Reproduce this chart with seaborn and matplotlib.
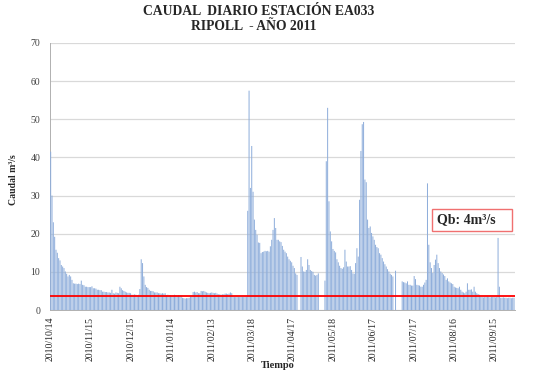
import matplotlib
matplotlib.use("Agg")
import matplotlib.pyplot as plt
from matplotlib.patches import Rectangle
import seaborn as sns
import pandas as pd
import numpy as np

sns.set_style("white")
plt.rcParams["font.family"] = ["Liberation Serif", "DejaVu Serif"]
plt.rcParams["axes.unicode_minus"] = False

nan = np.nan

# caudal diario (m3/s), por tramos
oct_nov = [41.5, 30.0, 23.0, 19.2, 15.8, 15.0, 13.6, 13.0, 11.8, 11.4,
           11.0, 10.1, 9.5, 8.8, 9.2, 8.8, 7.9, 7.0, 6.9, 6.9,
           6.8, 6.9, 6.8, 7.7, 6.6, 6.5, 6.1, 6.1, 6.0, 6.0,
           6.0, 6.2, 5.7, 5.7, 5.6, 5.3, 5.3, 5.2, 5.2, 4.8,
           4.8, 4.7, 4.7, 4.6, 4.6, 4.5, 5.3, 4.4, 4.3, 4.6,
           4.5, 4.4, 6.1, 5.7, 5.2, 5.0, 4.8, 4.6, 4.5]
dic_ene = [4.5, 4.4, 4.0, 4.0, 4.1, 4.0, 3.9, 4.0, 5.5, 13.3,
           12.3, 8.8, 6.6, 6.0, 5.8, 5.3, 5.0, 5.0, 4.9, 4.6,
           4.6, 4.6, 4.4, 4.4, 4.3, 4.4, 4.3, 4.4, 3.9, 4.0,
           3.9, 3.9, 3.8, 3.9, 4.0, 3.9, 3.8, 3.9, 3.9, 3.8,
           3.2, 3.1, 3.0, 3.1, 3.1, 3.2, 3.5, 3.5, 4.7, 4.8,
           4.6, 4.7, 4.4, 4.4, 5.0, 4.9, 5.0, 4.8, 4.6]
feb_mar = [4.5, 4.4, 4.5, 4.6, 4.5, 4.4, 4.5, 4.3, 4.1, 4.1,
           4.0, 4.1, 4.1, 4.3, 4.3, 4.2, 4.3, 4.6, 4.4, 3.5,
           3.4, 3.4, 3.5, 3.4, 3.4, 3.5, 3.4, 3.4, 3.5, 3.4,
           26.0]
mar_may = [57.5, 32.0, 43.0, 31.0, 23.7, 21.0, 19.7, 17.7, 17.6, 14.9,
           15.2, 15.3, 15.5, 15.4, 15.5, 15.3, 16.7, 18.4, 21.0, 24.1,
           21.5, 18.4, 18.4, 18.0, 17.8, 16.8, 15.8, 15.3, 14.9, 14.0,
           13.3, 12.9, 12.5, 11.6, 11.0, 9.6, 9.2, nan, nan, 13.9,
           11.4, 10.1, 10.0, 10.5, 13.3, 11.8, 10.5, 10.2, 10.0, 9.2,
           9.0, 9.2, 9.6, nan, nan, nan, nan, 7.7]
may_jul = [39.0, 53.0, 28.5, 20.6, 18.0, 16.0, 15.5, 15.1, 13.3, 12.5,
           11.6, 11.0, 10.8, 11.2, 15.8, 12.7, 11.4, 11.4, 11.5, 10.5,
           9.6, 9.5, 12.3, 16.2, 14.0, 28.9, 41.7, 48.7, 49.3, 34.2,
           33.5, 23.7, 21.5, 21.9, 20.2, 19.3, 18.4, 17.1, 16.5, 16.2,
           14.9, 14.5, 13.6, 12.7, 12.0, 11.4, 10.7, 10.1, 9.5, 9.2,
           8.8, nan, 10.3, nan, nan, nan, nan]
jul_sep = [7.5, 7.3, 7.2, 7.0, 7.5, 6.6, 6.6, 6.4, 6.4, 8.9,
           8.1, 6.6, 6.5, 6.4, 6.1, 6.1, 6.6, 7.2, 7.9, 33.2,
           17.1, 12.5, 11.0, 9.7, 11.8, 13.2, 14.5, 12.3, 11.0, 10.1,
           9.7, 9.3, 8.9, 7.9, 8.3, 7.5, 7.2, 7.0, 6.8, 6.1,
           5.9, 5.8, 5.7, 6.1, 5.3, 4.8, 4.6, 4.4, 4.8, 7.0,
           5.3, 5.3, 5.4, 4.8, 6.1, 4.8, 4.4, 4.2, 4.0]
sep = [3.4, 3.4, 3.3, 3.4, 3.4, 3.5, 3.4, 3.3, 3.4, 3.4,
       3.4, 3.3, 3.4, 18.9, 6.1, 3.2, 3.2, 3.3, 3.2, 3.2,
       3.1, 3.2, 3.2, 3.1, 3.2, 3.2]

fechas = ["2010/10/14", "2010/11/15", "2010/12/15", "2011/01/14",
          "2011/02/13", "2011/03/18", "2011/04/17", "2011/05/18",
          "2011/06/17", "2011/07/17", "2011/08/16", "2011/09/15"]
qb = 3.6

caudal = oct_nov + dic_ene + feb_mar + mar_may + may_jul + jul_sep + sep
n = len(caudal)
df = pd.DataFrame({"dia": np.arange(n), "caudal": caudal})

fig = plt.figure(figsize=(5.53, 3.73), dpi=100)
ax = fig.add_axes([50 / 553, 1 - 310 / 373, 464.7 / 553, 267 / 373])

ax.yaxis.grid(True, color="#D9D9D9", linewidth=0.9)
ax.set_axisbelow(True)

sns.barplot(data=df, x="dia", y="caudal", order=list(range(n)), color="#8FAEDB",
            width=0.75, errorbar=None, saturation=1, ax=ax)
for patch in ax.patches:
    patch.set_edgecolor("none")
    patch.set_linewidth(0)
    patch.set_snap(False)
    patch.set_antialiased(True)
    patch.set_zorder(3)

ax.axhline(qb, color="#FF0000", linewidth=1.3, zorder=5)

ax.set_xlim(-0.5, n - 0.5)
ax.set_ylim(0, 70)
ax.set_yticks(range(0, 71, 10))
ax.set_yticklabels([str(v) for v in range(0, 71, 10)], fontsize=7, color="#404040")

step = n / 23
ax.set_xticks([-0.5 + 2 * k * step for k in range(12)])
ax.set_xticklabels(fechas, rotation=90, fontsize=7, color="#262626")
ax.set_xticks([-0.5 + (2 * k + 1) * step for k in range(12)], minor=True)
ax.tick_params(axis="x", which="both", direction="out", length=3, width=0.6,
               color="#A6A6A6", pad=2)
ax.tick_params(axis="y", direction="out", length=5, width=0.6, color="#BFBFBF", pad=2)
ax.set_xlabel("")
ax.set_ylabel("")

for side in ["top", "right"]:
    ax.spines[side].set_visible(False)
for side in ["left", "bottom"]:
    ax.spines[side].set_color("#B0B0B0")
    ax.spines[side].set_linewidth(0.7)
    ax.spines[side].set_zorder(1)

fig.text(259 / 553, 1 - 11.5 / 373, "CAUDAL  DIARIO ESTACIÓN EA033",
         ha="center", va="center", fontsize=9.8, fontweight="bold")
fig.text(254 / 553, 1 - 27 / 373, "RIPOLL  - AÑO 2011",
         ha="center", va="center", fontsize=9.8, fontweight="bold")
fig.text(14 / 553, 1 - 180 / 373, "Caudal m³/s", rotation=90, ha="center", va="center",
         fontsize=7, fontweight="bold")
fig.text(278 / 553, 1 - 366 / 373, "Tiempo", ha="center", va="center",
         fontsize=7.5, fontweight="bold")

fig.patches.append(Rectangle((431.7 / 553, 1 - 230.7 / 373), 80.6 / 553, 21.7 / 373,
                             transform=fig.transFigure, facecolor="white",
                             edgecolor="#F07070", linewidth=1.0, zorder=6))
fig.text(437 / 553, 1 - 220 / 373, "Qb: 4m³/s", ha="left", va="center",
         fontsize=10, fontweight="bold", zorder=7)

fig.savefig("out.png", dpi=100)
